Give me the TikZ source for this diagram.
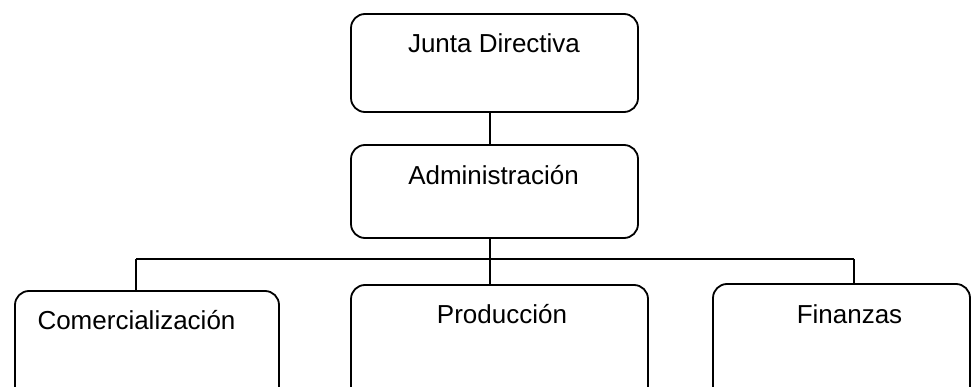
\documentclass[tikz,border=0pt]{standalone}
\usepackage{fontspec}
\setmainfont{Liberation Sans}
\begin{document}
\begin{tikzpicture}[x=1pt,y=-1pt,
  box/.style={draw=black,line width=1.8pt,rounded corners=14pt,inner sep=0pt},
  lbl/.style={anchor=base,inner sep=0pt,font=\fontsize{26}{30}\selectfont},
  conn/.style={draw=black,line width=1.6pt}]
\useasboundingbox (0,0) rectangle (974,387);
\clip (0,0) rectangle (974,387);
\fill[white] (0,0) rectangle (974,387);
% boxes
\node[box,minimum width=287pt,minimum height=98pt] (junta) at (494.5,63) {};
\node[box,minimum width=287pt,minimum height=93pt] (admin) at (494.5,191.5) {};
\node[box,minimum width=264pt,minimum height=130pt] (comer) at (147,356) {};
\node[box,minimum width=297pt,minimum height=130pt] (prod) at (499.5,350) {};
\node[box,minimum width=257pt,minimum height=130pt] (fin) at (841.5,349) {};
% labels
\node[lbl] (tjunta) at (494,53) {Junta Directiva};
\node[lbl] (tadmin) at (493.5,185) {Administración};
\node[lbl] (tcomer) at (136.5,329) {Comercialización};
\node[lbl] (tprod) at (502,323) {Producción};
\node[lbl] (tfin) at (849.5,323) {Finanzas};
% connectors
\coordinate (bus) at (490,259);
\coordinate (busl) at (136,259);
\coordinate (busr) at (854,259);
\draw[conn] (junta.south -| bus) -- (admin.north -| bus);
\draw[conn] (admin.south -| bus) -- (bus);
\draw[conn] (busl) -- (busr);
\draw[conn] (busl) -- (comer.north -| busl);
\draw[conn] (bus) -- (prod.north -| bus);
\draw[conn] (busr) -- (fin.north -| busr);
\end{tikzpicture}
\end{document}
